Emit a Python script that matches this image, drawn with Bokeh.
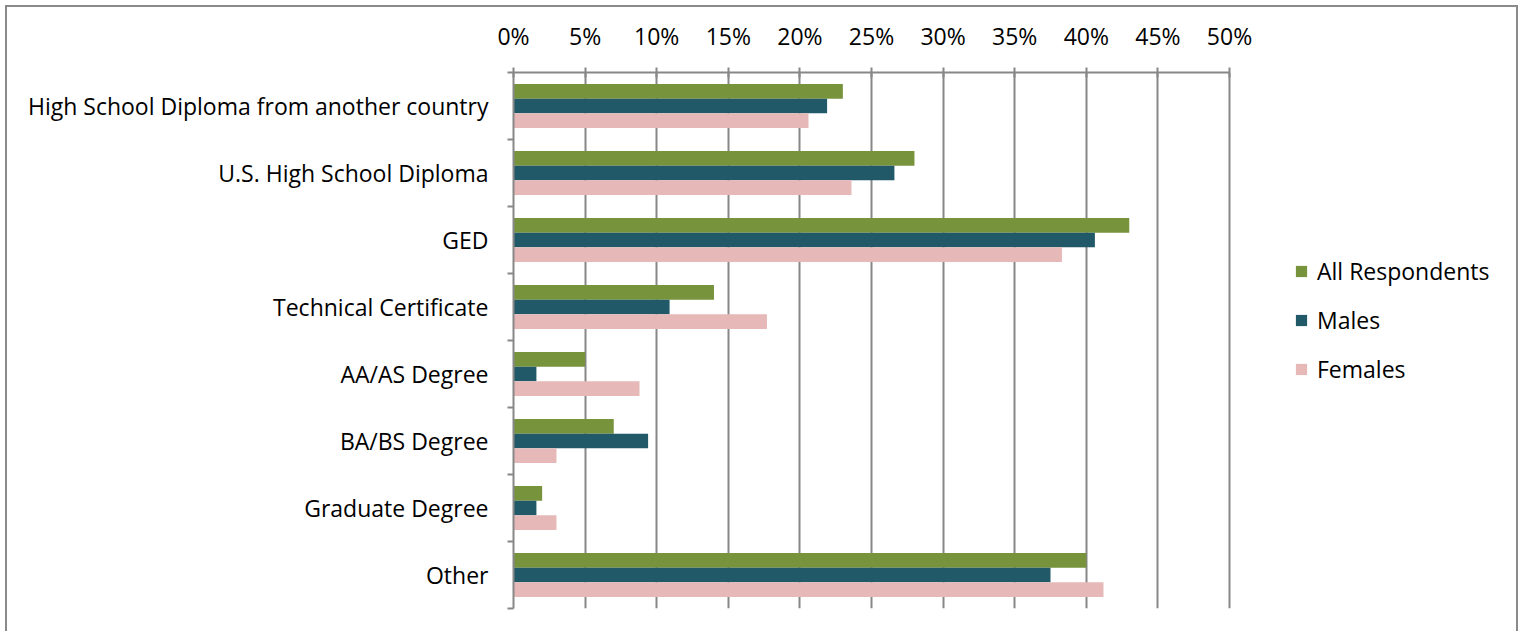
from bokeh.plotting import figure
from bokeh.models import (FixedTicker, PrintfTickFormatter, Range1d, Legend, LegendItem)
from bokeh.embed import file_html
from bokeh.resources import INLINE

# ---- data ----
categories = ["High School Diploma from another country", "U.S. High School Diploma", "GED",
              "Technical Certificate", "AA/AS Degree", "BA/BS Degree", "Graduate Degree", "Other"]
all_respondents = [23.0, 28.0, 43.0, 14.0, 5.0, 7.0, 2.0, 40.0]
males = [21.9, 26.6, 40.6, 10.9, 1.6, 9.4, 1.6, 37.5]
females = [20.6, 23.6, 38.3, 17.7, 8.8, 3.0, 3.0, 41.2]
series_names = ["All Respondents", "Males", "Females"]
x_ticks = [0, 5, 10, 15, 20, 25, 30, 35, 40, 45, 50]

# ---- style ----
FONT = "Open Sans"
FS = "23px"
GRAY = "#878787"
colors = ["#77933C", "#215968", "#E6B9B8"]

n = len(categories)
centers = [n - i - 0.5 for i in range(n)]
bounds_y = list(range(n + 1))

frame_w = 1002
x_end = 50 * frame_w / 716.0

p = figure(frame_width=frame_w, frame_height=536,
           min_border_left=506, min_border_right=1, min_border_top=65, min_border_bottom=23,
           x_range=Range1d(0, x_end), y_range=Range1d(0, n),
           x_axis_location="above", output_backend="svg", toolbar_location=None)
p.outline_line_color = None
p.background_fill_color = "white"
p.border_fill_color = "white"
p.styles = {"margin": "5px 0 0 5px",
            "border-left": "2px solid #8a8a8a", "border-top": "2px solid #8a8a8a",
            "border-right": "2px solid #8a8a8a"}

bar_h = 0.22
series = [all_respondents, males, females]
offsets = [bar_h, 0.0, -bar_h]
renderers = []
for vals, off, col in zip(series, offsets, colors):
    r = p.hbar(y=[c + off for c in centers], right=vals, left=0, height=bar_h,
               fill_color=col, line_color=None)
    renderers.append(r)

# x axis (top)
xa = p.xaxis[0]
xa.ticker = FixedTicker(ticks=x_ticks)
xa.formatter = PrintfTickFormatter(format="%d%%")
xa.bounds = (0, 50)
xa.axis_line_color = GRAY
xa.axis_line_width = 2
xa.major_tick_line_color = GRAY
xa.major_tick_line_width = 2
xa.major_tick_in = 5
xa.major_tick_out = 5
xa.minor_tick_line_color = None
xa.major_label_standoff = 16
xa.major_label_text_font = FONT
xa.major_label_text_font_size = FS
xa.major_label_text_color = "black"

# y axis (left)
ya = p.yaxis[0]
ya.ticker = FixedTicker(ticks=centers, minor_ticks=bounds_y)
ya.major_label_overrides = {c: name for c, name in zip(centers, categories)}
ya.bounds = (0, n)
ya.axis_line_color = GRAY
ya.axis_line_width = 2
ya.major_tick_line_color = None
ya.major_tick_in = 0
ya.major_tick_out = 0
ya.minor_tick_line_color = GRAY
ya.minor_tick_line_width = 2
ya.minor_tick_in = 0
ya.minor_tick_out = 6
ya.major_label_standoff = 19
ya.major_label_text_font = FONT
ya.major_label_text_font_size = FS
ya.major_label_text_color = "black"

p.xgrid.ticker = FixedTicker(ticks=x_ticks)
p.xgrid.bounds = (0, 50)
p.xgrid.grid_line_color = GRAY
p.xgrid.grid_line_width = 2
p.ygrid.grid_line_color = None

legend = Legend(items=[LegendItem(label=nm, renderers=[r]) for nm, r in zip(series_names, renderers)],
                location=(781, 223), orientation="vertical")
legend.label_text_font = FONT
legend.label_text_font_size = FS
legend.label_text_color = "black"
legend.glyph_width = 14
legend.glyph_height = 14
legend.label_standoff = 9
legend.label_height = 20
legend.spacing = 17
legend.padding = 0
legend.margin = 0
legend.border_line_color = None
legend.background_fill_alpha = 0
p.add_layout(legend)

open("out.html", "w").write(file_html(p, INLINE))
